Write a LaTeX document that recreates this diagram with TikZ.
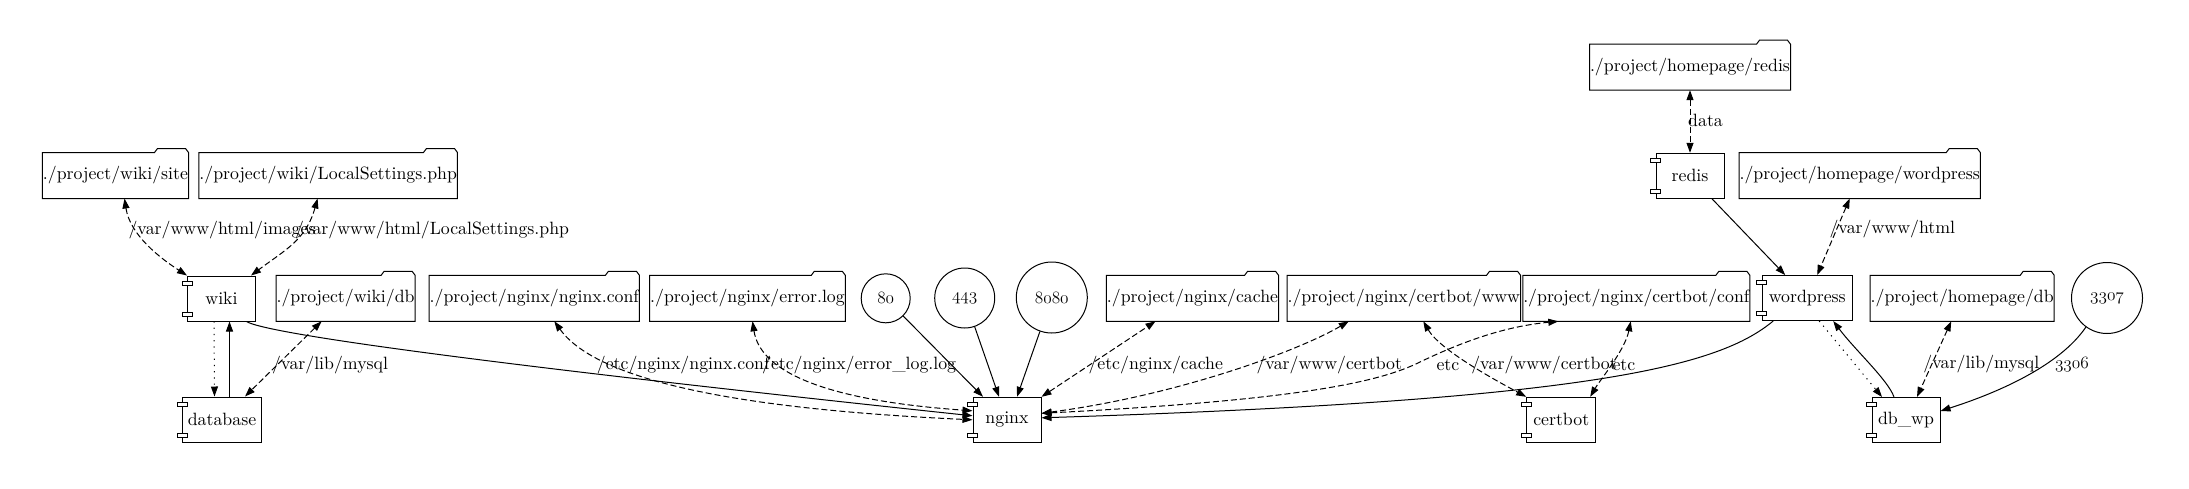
\documentclass[tikz,border=0pt]{standalone}
\usepackage{fontspec}
\setmainfont{lmroman10-regular.otf}
\usetikzlibrary{arrows.meta}
\newcommand{\osn}[1]{{\usefont{OML}{cmm}{m}{it}#1}}

\begin{document}
\begin{tikzpicture}[x=1pt, y=-1pt, line width=1pt, >={Triangle[length=10pt,width=7pt]},
        font=\fontsize{17.8pt}{20pt}\selectfont,
        folder/.style={rectangle, inner sep=0pt, minimum height=45pt},
        comp/.style={rectangle, draw, fill=white, inner sep=0pt, minimum height=45pt},
        port/.style={circle, draw, inner sep=0pt},
        lbl/.style={anchor=west, inner sep=0pt},
        vol/.style={<->, dash pattern=on 6pt off 3pt},
        dep/.style={->, dash pattern=on 1.2pt off 5pt}]
        \useasboundingbox (0,0) rectangle (2189,488);

        \node[folder, minimum width=141pt] (site) at (115.5,175.5) {./project/wiki/site};
        \node[folder, minimum width=239pt] (lsphp) at (328.2,175.5) {./project/wiki/LocalSettings.php};
        \node[folder, minimum width=134pt] (wikidb) at (345.6,298.3) {./project/wiki/db};
        \node[folder, minimum width=197pt] (nginxconf) at (534.3,298.3) {./project/nginx/nginx.conf};
        \node[folder, minimum width=184pt] (errorlog) at (747.5,298.3) {./project/nginx/error.log};
        \node[folder, minimum width=163pt] (cache) at (1192.5,298.3) {./project/nginx/cache};
        \node[folder, minimum width=212pt] (certwww) at (1403.8,298.3) {./project/nginx/certbot/www};
        \node[folder, minimum width=206pt] (certconf) at (1636.3,298.3) {./project/nginx/certbot/conf};
        \node[folder, minimum width=190pt] (homeredis) at (1690,67.2) {./project/homepage/redis};
        \node[folder, minimum width=227pt] (homewp) at (1859.7,175.5) {./project/homepage/wordpress};
        \node[folder, minimum width=174pt] (homedb) at (1962.2,298.3) {./project/homepage/db};

        \node[comp, minimum width=68pt] (wiki) at (221.5,298.5) {wiki};
        \node[comp, minimum width=79pt] (database) at (222,419.5) {database};
        \node[comp, minimum width=68pt] (nginx) at (1007,419.8) {nginx};
        \node[comp, minimum width=69pt] (certbot) at (1561.2,419.8) {certbot};
        \node[comp, minimum width=68pt] (redis) at (1690,175.8) {redis};
        \node[comp, minimum width=90pt] (wordpress) at (1807.2,298) {wordpress};
        \node[comp, minimum width=68pt] (dbwp) at (1906,420) {db\_wp};

        \node[port, minimum size=49pt] (p80) at (885.7,298.3) {\osn{80}};
        \node[port, minimum size=60pt] (p443) at (964.7,298) {\osn{443}};
        \node[port, minimum size=71pt] (p8080) at (1051.8,297.5) {\osn{8080}};
        \node[port, minimum size=71pt] (p3307) at (2107,298) {\osn{3307}};

        \foreach \n in {site,lsphp,wikidb,nginxconf,errorlog,cache,certwww,certconf,homeredis,homewp,homedb} {
            \draw (\n.south west) -- (\n.north west) -- ([xshift=-34pt]\n.north east) -- ([xshift=-31pt,yshift=4pt]\n.north east)
                -- ([xshift=-3pt,yshift=4pt]\n.north east) -- (\n.north east) -- (\n.south east) -- cycle;
        }
        \foreach \n in {wiki,database,nginx,certbot,redis,wordpress,dbwp} {
            \draw[fill=white] ([xshift=-5pt,yshift=-5.5pt]\n.north west) rectangle ([xshift=5pt,yshift=-9.5pt]\n.north west);
            \draw[fill=white] ([xshift=-5pt,yshift=5.5pt]\n.south west) rectangle ([xshift=5pt,yshift=9.5pt]\n.south west);
        }

        \draw[vol] ([xshift=9pt]site.south) .. controls (130,235) and (160,258) .. (wiki.north west);
        \draw[vol] ([xshift=-10.6pt]lsphp.south) .. controls (306,240) and (285,250) .. ([xshift=-5pt]wiki.north east);
        \draw[dep] ([xshift=-7.5pt]wiki.south) -- ([xshift=-7.5pt]database.north);
        \draw[->] ([xshift=7.5pt]database.north) -- ([xshift=8pt]wiki.south);
        \draw[vol] ([xshift=-24pt]wikidb.south) -- ([xshift=23pt]database.north);
        \draw[->] ([xshift=25pt]wiki.south) .. controls (270,336) and (560,372) .. ([yshift=4pt]nginx.west);

        \draw[vol] ([xshift=20pt]nginxconf.south) .. controls (600,385) and (760,410) .. (nginx.west);
        \draw[vol] ([xshift=5pt]errorlog.south) .. controls (760,370) and (820,400) .. ([yshift=9pt]nginx.west);
        \draw[->] (p80) -- ([xshift=-24pt]nginx.north);
        \draw[->] (p443) -- ([xshift=-8pt]nginx.north);
        \draw[->] (p8080) -- ([xshift=10pt]nginx.north);
        \draw[vol] (nginx.north east) -- ([xshift=-37pt]cache.south);
        \draw[vol] ([yshift=6.5pt]nginx.east) .. controls (1180,395) and (1300,350) .. ([xshift=-55pt]certwww.south);
        \draw[vol] ([yshift=6.5pt]nginx.east) .. controls (1300,400) and (1380,382) .. (1420,362)
            .. controls (1470,338) and (1510,326) .. ([xshift=-78pt]certconf.south);
        \draw[vol] ([xshift=19.5pt]certwww.south) .. controls (1440,350) and (1495,380) .. (certbot.north west);
        \draw[vol] ([xshift=-5.6pt]certconf.south) .. controls (1625,350) and (1600,380) .. ([xshift=-6pt]certbot.north east);
        \draw[->] ([xshift=-34pt]wordpress.south) .. controls (1720,365) and (1600,400) .. ([yshift=2pt]nginx.east);

        \draw[vol] (homeredis) -- (redis);
        \draw[->] ([xshift=22pt]redis.south) -- ([xshift=-22pt]wordpress.north);
        \draw[vol] ([xshift=-10pt]homewp.south) -- ([xshift=10pt]wordpress.north);
        \draw[dep] ([xshift=12pt]wordpress.south) -- ([xshift=-24pt]dbwp.north);
        \draw[->] ([xshift=-12pt]dbwp.north) .. controls (1888,380) and (1855,350) .. ([xshift=26pt]wordpress.south);
        \draw[vol] ([xshift=-11pt]homedb.south) -- ([xshift=11pt]dbwp.north);
        \draw[->] (p3307.234) .. controls (2060,365) and (2000,392) .. ([yshift=9pt]dbwp.east);

        \node[lbl] (lImages) at (128,230) {/var/www/html/images};
        \node[lbl] (lLocal) at (294.7,230) {/var/www/html/LocalSettings.php};
        \node[lbl] (lMysqlWiki) at (271.7,365) {/var/lib/mysql};
        \node[lbl] (lConf) at (596.4,365) {/etc/nginx/nginx.conf};
        \node[lbl] (lErr) at (761.6,365) {/etc/nginx/error\_log.log};
        \node[lbl] (lCache) at (1088,365) {/etc/nginx/cache};
        \node[lbl] (lWww) at (1256,365) {/var/www/certbot};
        \node[lbl] (lEtc) at (1436,365) {etc};
        \node[lbl] (lWwwBot) at (1470.8,365) {/var/www/certbot};
        \node[lbl] (lEtcBot) at (1612,365) {etc};
        \node[lbl] (lData) at (1687.7,120) {data};
        \node[lbl] (lHtml) at (1829,229.3) {/var/www/html};
        \node[lbl] (lMysqlWp) at (1922.9,364.3) {/var/lib/mysql};
        \node[lbl] (lPort) at (2054.5,364.3) {\osn{3306}};
    \end{tikzpicture}
\end{document}
